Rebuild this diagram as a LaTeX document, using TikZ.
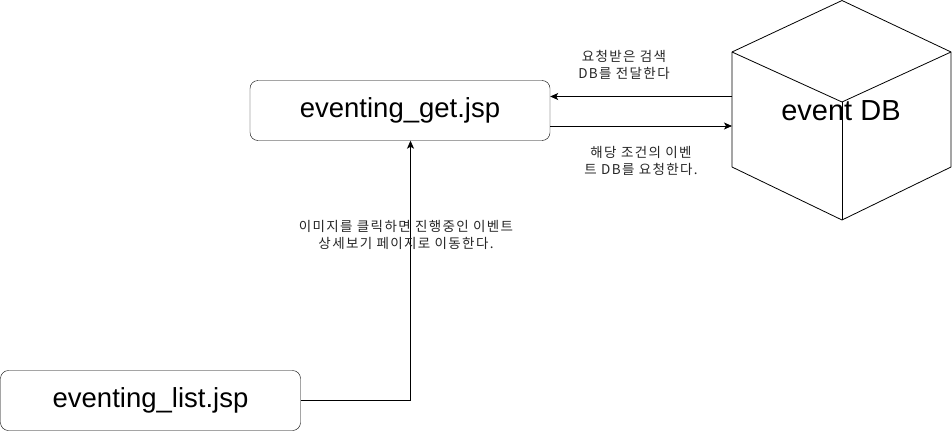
\documentclass[tikz,border=0pt]{standalone}
\usepackage{fontspec}
\setmainfont{Liberation Sans}
\newfontfamily\kr[LetterSpace=10]{Noto Sans CJK KR}
\usetikzlibrary{arrows.meta}
\begin{document}
\begin{tikzpicture}[x=1pt,y=-1pt,
  box/.style={draw,rounded corners=8pt,minimum width=300pt,minimum height=60pt,inner sep=0pt,font=\fontsize{27.5}{30}\selectfont},
  lbl/.style={align=center,font=\kr\fontsize{13.5}{17}\selectfont,inner sep=0pt,text=black!85},
  conn/.style={-{Stealth[length=8pt,width=7pt,inset=2pt]},line width=0.8pt},
  edge/.style={line width=0.8pt,line join=round}]
\useasboundingbox (0,0) rectangle (952,431);
\node[box] (get) at (400,110.5) {eventing\_get.jsp};
\node[box] (list) at (150.5,400.5) {eventing\_list.jsp};
% cube
\coordinate (ctop) at (842,0.5);
\coordinate (clt) at (732,52);
\coordinate (crt) at (951,52);
\coordinate (cmid) at (842,102);
\coordinate (clb) at (732,167);
\coordinate (crb) at (951,167);
\coordinate (cbot) at (842,220);
\draw[edge,fill=white] (clt) -- (ctop) -- (crt) -- (crb) -- (cbot) -- (clb) -- cycle;
\draw[edge] (clt) -- (cmid) -- (crt);
\draw[edge] (cmid) -- (cbot);
\node[font=\fontsize{29}{30}\selectfont,inner sep=0pt] (db) at (841,111) {event DB};
\coordinate (dbin) at (732,96.5);
\coordinate (dbout) at (732,126);
\draw[conn] (dbin) -- (get.east |- dbin);
\draw[conn] (get.east |- dbout) -- (dbout);
\coordinate (bend) at (410.5,400.5);
\draw[conn] (list.east) -- (bend) -- (bend |- get.south);
\node[lbl] (l1) at (624,65) {요청받은 검색\\DB를 전달한다};
\node[lbl] (l2) at (641,161) {해당 조건의 이벤\\트 DB를 요청한다.};
\node[lbl] (l3) at (406,234.5) {이미지를 클릭하면 진행중인 이벤트\\상세보기 페이지로 이동한다.};
\end{tikzpicture}
\end{document}
